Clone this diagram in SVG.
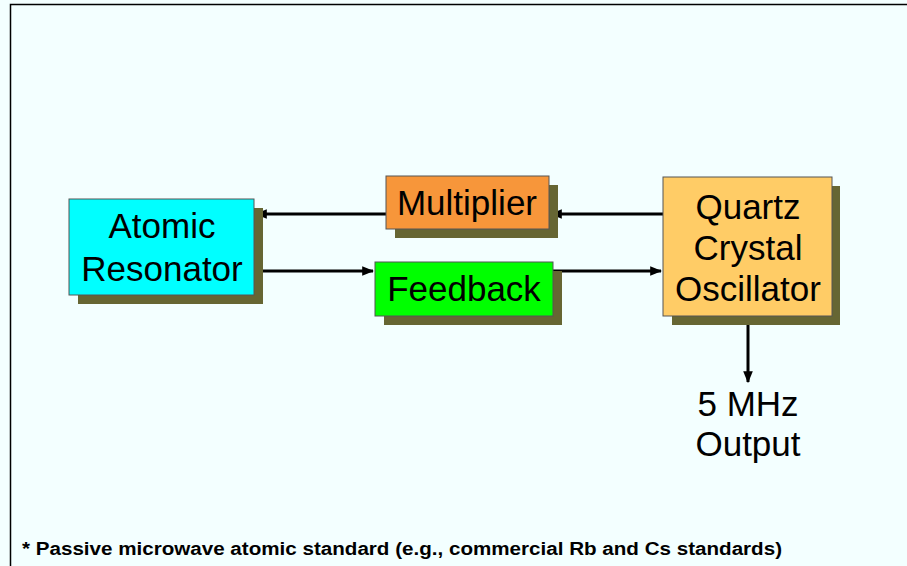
<svg xmlns="http://www.w3.org/2000/svg" width="907" height="566" viewBox="0 0 907 566">
<defs>
<style>
.sh{fill:#666633}
.bx{stroke:#555;stroke-width:1}
.t{font-family:"Liberation Sans",Arial,sans-serif;font-size:35px;fill:#000;text-anchor:middle}
.ln{stroke:#000;stroke-width:3;fill:none}
</style>
<marker id="ah" viewBox="0 0 10 10" refX="9" refY="5" markerWidth="4" markerHeight="4" orient="auto" markerUnits="strokeWidth">
<path d="M0,1 L10,5 L0,9 z" fill="#000"/>
</marker>
</defs>
<rect x="0" y="0" width="907" height="566" fill="#F3FFFF"/>
<path d="M10.5,570 V4.5 H910" fill="none" stroke="#000" stroke-width="1.5"/>
<g id="connectors">
<line class="ln" x1="663" y1="214" x2="551" y2="214" marker-end="url(#ah)"/>
<line class="ln" x1="386" y1="214" x2="256" y2="214" marker-end="url(#ah)"/>
<line class="ln" x1="254" y1="271" x2="373" y2="271" marker-end="url(#ah)"/>
<line class="ln" x1="553" y1="271" x2="661" y2="271" marker-end="url(#ah)"/>
<line class="ln" x1="748" y1="316" x2="748" y2="382" marker-end="url(#ah)"/>
</g>
<g id="atomic">
<rect class="sh" x="78" y="208" width="185" height="96"/>
<rect class="bx" x="69" y="199" width="185" height="96" fill="#00FFFF"/>
<text class="t" x="162" y="238">Atomic</text>
<text class="t" x="162" y="281">Resonator</text>
</g>
<g id="multiplier">
<rect class="sh" x="395" y="185" width="163" height="53"/>
<rect class="bx" x="386" y="176" width="163" height="53" fill="#F7963A"/>
<text class="t" x="467" y="215">Multiplier</text>
</g>
<g id="feedback">
<rect class="sh" x="384" y="271" width="178" height="54"/>
<rect class="bx" x="375" y="262" width="178" height="54" fill="#00FF00"/>
<text class="t" x="464" y="301">Feedback</text>
</g>
<g id="quartz">
<rect class="sh" x="672" y="186" width="168" height="139"/>
<rect class="bx" x="663" y="177" width="169" height="139" fill="#FFCC66"/>
<text class="t" x="748" y="219">Quartz</text>
<text class="t" x="748" y="260">Crystal</text>
<text class="t" x="748" y="301">Oscillator</text>
</g>
<g id="output">
<text class="t" x="748" y="416">5 MHz</text>
<text class="t" x="748" y="456">Output</text>
</g>
<text x="22" y="555" font-family="'Liberation Sans',Arial,sans-serif" font-size="18" font-weight="bold" textLength="760" lengthAdjust="spacingAndGlyphs">* Passive microwave atomic standard (e.g., commercial Rb and Cs standards)</text>
</svg>
